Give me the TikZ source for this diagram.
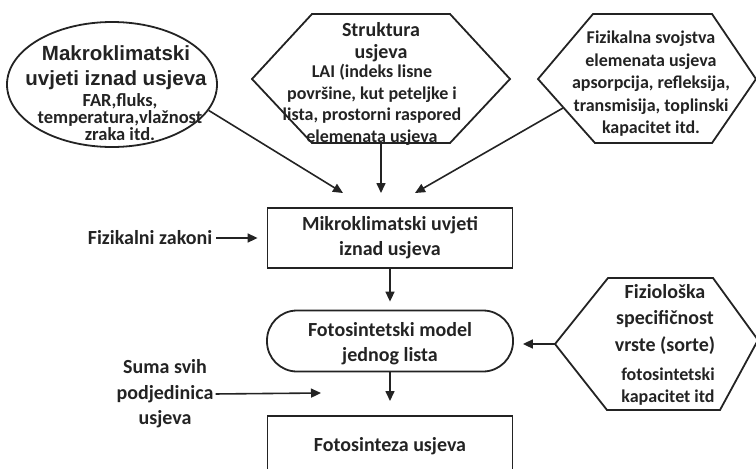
\documentclass[tikz,border=0pt]{standalone}
\usepackage{fontspec}
\setmainfont{Carlito}
\newfontfamily\arialfont{Liberation Sans}
\usetikzlibrary{arrows.meta,shapes.geometric}
\definecolor{ink}{RGB}{35,35,35}
\begin{document}
\begin{tikzpicture}[x=1pt,y=-1pt,
  shp/.style={draw=ink,line width=1.8pt},
  arr/.style={draw=ink,line width=1.6pt,-{Triangle[length=10pt,width=9pt]}},
  big/.style={text=ink,font=\bfseries\fontsize{20}{25}\selectfont,align=center,inner sep=0pt},
  small/.style={text=ink,font=\bfseries\fontsize{18}{21.5}\selectfont,align=center,inner sep=0pt},
  box/.style={shp,rectangle,minimum width=245pt,minimum height=60pt,inner sep=0pt,big},
]
\useasboundingbox (0,0) rectangle (756,469);

% ellipse
\node[shp,ellipse,minimum width=210pt,minimum height=125pt,inner sep=0pt] (mak) at (112,84.5) {};
\node[text=ink,font=\arialfont\bfseries\fontsize{20.5}{25}\selectfont,align=center,inner sep=0pt] (makt) at (116,67.5) {Makroklimatski\\uvjeti iznad usjeva};
\node[text=ink,font=\bfseries\fontsize{18.5}{17}\selectfont,align=center,inner sep=0pt] (makb) at (120,117) {FAR,fluks,\\temperatura,vlažnost\\zraka itd.};

% Struktura hexagon
\coordinate (s1) at (252,79);
\coordinate (s2) at (312,14);
\coordinate (s3) at (450,14);
\coordinate (s4) at (510,79);
\coordinate (s5) at (450,143);
\coordinate (s6) at (312,143);
\coordinate (sb) at (381,143);
\draw[shp,line join=miter] (s1)--(s2)--(s3)--(s4)--(s5)--(s6)--cycle;
\node[big,font=\bfseries\fontsize{20}{22}\selectfont] (strt) at (381,42) {Struktura\\usjeva};
\node[small] (strb) at (372,105) {LAI (indeks lisne\\površine, kut peteljke i\\lista, prostorni raspored\\elemenata usjeva};

% Fizikalna hexagon
\coordinate (f1) at (538,79);
\coordinate (f2) at (593,14);
\coordinate (f3) at (712,14);
\coordinate (f4) at (756,79);
\coordinate (f5) at (712,143);
\coordinate (f6) at (595,143);
\coordinate (fe) at (563,108);
\draw[shp,line join=miter] (f1)--(f2)--(f3)--(f4)--(f5)--(f6)--cycle;
\node[small,font=\bfseries\fontsize{18}{22.5}\selectfont] (fizt) at (651,84) {Fizikalna svojstva\\elemenata usjeva\\apsorpcija, refleksija,\\transmisija, toplinski\\kapacitet itd.};

% arrows into Mikro
\coordinate (t1) at (343,193);
\coordinate (t2) at (381,193);
\coordinate (t3) at (415,193);
\draw[arr] (mak.-15) -- (t1);
\draw[arr] (sb) -- (t2);
\draw[arr] (fe) -- (t3);

% Mikro box
\node[box] (mik) at (390,238) {\raisebox{-1.5pt}{\begin{tabular}{@{}c@{}}Mikroklimatski uvjeti\\[0pt]iznad usjeva\end{tabular}}};
\node[big] (fz) at (150,238) {Fizikalni zakoni};
\draw[arr,shorten <=4pt,shorten >=9pt] (fz.east) -- (mik.west);

% Model
\node[shp,rectangle,rounded corners=30pt,minimum width=246pt,minimum height=61pt,inner sep=0pt] (mod) at (390,341) {};
\node[big] (modt) at (390,344) {Fotosintetski model\\jednog lista};
\draw[arr,shorten >=8pt] (mik.south) -- (mod.north);

% Fiziološka hexagon
\coordinate (g1) at (555,344);
\coordinate (g2) at (608,278);
\coordinate (g3) at (713,278);
\coordinate (g4) at (758,340);
\coordinate (g5) at (720,410);
\coordinate (g6) at (607,410);
\draw[shp,line join=miter] (g1)--(g2)--(g3)--(g4)--(g5)--(g6)--cycle;
\node[big,font=\bfseries\fontsize{20}{26.5}\selectfont] (fiot) at (665,319) {Fiziološka\\specifičnost\\vrste (sorte)};
\node[small,font=\bfseries\fontsize{18}{22}\selectfont] (fiob) at (668,387) {fotosintetski\\kapacitet itd};
\draw[arr,shorten >=9pt] (g1) -- (g1 -| mod.east);

% bottom box
\node[box,anchor=north] (fu) at (390,415) {\raisebox{3pt}{Fotosinteza usjeva}};
\draw[arr,shorten >=14pt] (mod.south) -- (fu.north);

% Suma
\node[big,font=\bfseries\fontsize{20}{25.5}\selectfont] (sum) at (165,394) {Suma svih\\podjedinica\\usjeva};
\coordinate (t4) at (321,393);
\draw[arr,shorten <=2pt] (sum.east) -- (t4);
\end{tikzpicture}
\end{document}
